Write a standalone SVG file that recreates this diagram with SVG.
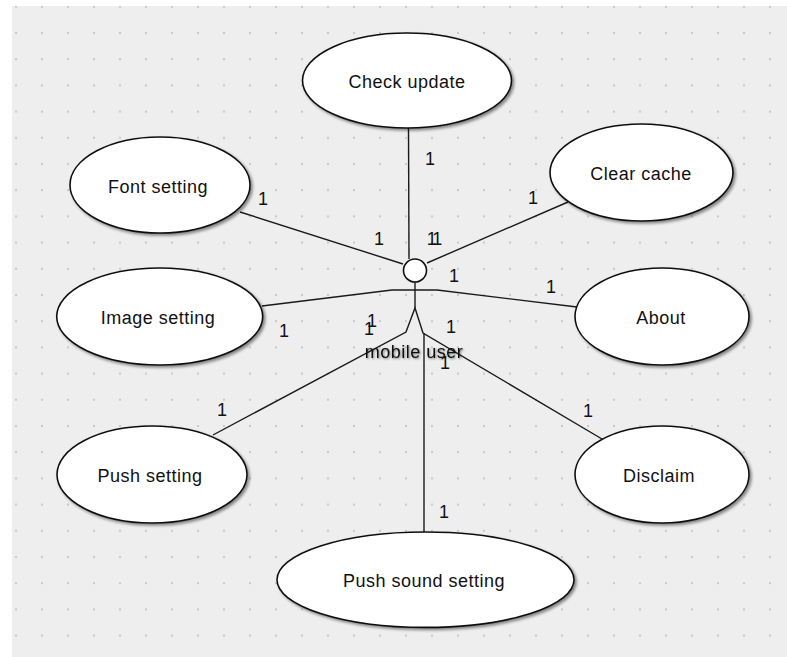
<svg xmlns="http://www.w3.org/2000/svg" width="787" height="657" viewBox="0 0 787 657">
<defs>
<pattern id="dots" x="15" y="32" width="26" height="26.2" patternUnits="userSpaceOnUse">
<rect x="0" y="0" width="2" height="2" fill="#c9c9c9"/>
</pattern>
<filter id="sh" x="-10%" y="-10%" width="125%" height="130%">
<feGaussianBlur in="SourceAlpha" stdDeviation="1.5"/>
<feOffset dx="2" dy="2" result="b"/>
<feComponentTransfer><feFuncA type="linear" slope="0.45"/></feComponentTransfer>
<feMerge><feMergeNode/><feMergeNode in="SourceGraphic"/></feMerge>
</filter>
<filter id="tsh" x="-10%" y="-30%" width="125%" height="170%">
<feGaussianBlur in="SourceAlpha" stdDeviation="1.2"/>
<feOffset dx="1" dy="1"/>
<feComponentTransfer><feFuncA type="linear" slope="0.5"/></feComponentTransfer>
<feMerge><feMergeNode/><feMergeNode in="SourceGraphic"/></feMerge>
</filter>
</defs>
<style>
.uc{fill:#fff;stroke:#111;stroke-width:1.6;filter:url(#sh)}
.t{font-family:"Liberation Sans",Arial,sans-serif;font-size:18px;letter-spacing:0.5px;fill:#111;text-anchor:middle}
.c{fill:none;stroke:#1a1a1a;stroke-width:1.4}
.m{font-family:"Liberation Sans",Arial,sans-serif;font-size:18px;fill:#111;text-anchor:middle}
</style>
<rect x="0" y="0" width="787" height="657" fill="#ffffff"/>
<rect x="12" y="6" width="775" height="651" fill="#eeeeee"/>
<rect x="12" y="6" width="775" height="651" fill="url(#dots)"/>

<g id="connectors">
<line class="c" x1="408.5" y1="128" x2="409" y2="259"/>
<line class="c" x1="240" y1="212" x2="403" y2="264"/>
<line class="c" x1="568" y1="202" x2="427" y2="263"/>
<polyline class="c" points="262,306 392,290 437,290 577,307"/>
<polyline class="c" points="213,435 406,332 415,308 423,333 602,439"/>
<line class="c" x1="424" y1="333" x2="424" y2="532"/>
</g>

<g id="actor">
<circle cx="415" cy="270.5" r="11.5" fill="#fff" stroke="#111" stroke-width="1.6"/>
<line class="c" x1="415" y1="282" x2="415" y2="308"/>
<text class="t" x="414" y="358" filter="url(#tsh)">mobile user</text>
</g>

<g id="check-update"><ellipse class="uc" cx="407" cy="80.5" rx="104.5" ry="47.5"/><text class="t" x="407" y="88">Check update</text></g>
<g id="font-setting"><ellipse class="uc" cx="160" cy="185" rx="90" ry="48"/><text class="t" x="158" y="193">Font setting</text></g>
<g id="clear-cache"><ellipse class="uc" cx="641.5" cy="172.5" rx="91.5" ry="48.5"/><text class="t" x="641" y="180">Clear cache</text></g>
<g id="image-setting"><ellipse class="uc" cx="159.7" cy="316.5" rx="103" ry="48.5"/><text class="t" x="158" y="324">Image setting</text></g>
<g id="about"><ellipse class="uc" cx="662" cy="316.5" rx="87" ry="48.5"/><text class="t" x="661" y="324">About</text></g>
<g id="push-setting"><ellipse class="uc" cx="152" cy="474.5" rx="95" ry="48.5"/><text class="t" x="150" y="482">Push setting</text></g>
<g id="disclaim"><ellipse class="uc" cx="662" cy="474.5" rx="87" ry="48.5"/><text class="t" x="659" y="482">Disclaim</text></g>
<g id="push-sound-setting"><ellipse class="uc" cx="425.5" cy="579.7" rx="148.5" ry="47.7"/><text class="t" x="424" y="587">Push sound setting</text></g>

<g id="multiplicities">
<text class="m" x="430" y="165">1</text>
<text class="m" x="263" y="205">1</text>
<text class="m" x="379" y="245">1</text>
<text class="m" x="433" y="245" letter-spacing="-3">11</text>
<text class="m" x="533" y="204">1</text>
<text class="m" x="454" y="282">1</text>
<text class="m" x="551" y="293">1</text>
<text class="m" x="284" y="337">1</text>
<text class="m" x="372" y="327">1</text>
<text class="m" x="369" y="335">1</text>
<text class="m" x="451" y="333">1</text>
<text class="m" x="445" y="369">1</text>
<text class="m" x="222" y="416">1</text>
<text class="m" x="588" y="417">1</text>
<text class="m" x="444" y="518">1</text>
</g>
</svg>
